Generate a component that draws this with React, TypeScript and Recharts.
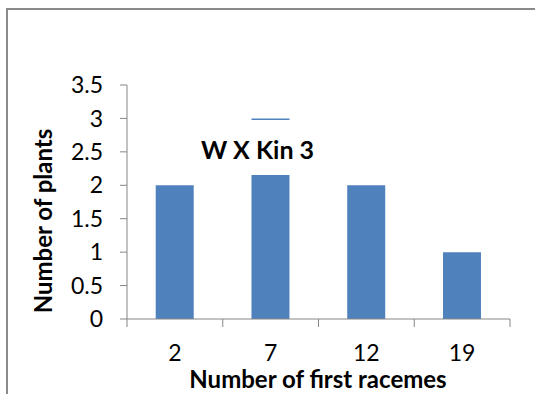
import { BarChart, Bar, XAxis, YAxis } from 'recharts';

const racemes = ['2', '7', '12', '19'];
const plants = [2, 3, 2, 1];
const yTicks = [0, 0.5, 1, 1.5, 2, 2.5, 3, 3.5];

const W = 535;
const H = 394;
const M = { top: 85, right: 25, left: 0, bottom: 0 };
const Y_AXIS_W = 127;
const X_AXIS_H = 75;
const AXIS = '#868686';
const FONT = 'Lato, "Open Sans", sans-serif';
const TICK_FS = 23;
const TITLE_FS = 24;

const data = racemes.map((r, i) => ({ racemes: r, plants: plants[i] }));

// category tick: label in the middle, tick marks on the band edges
function EdgeTick(props: any) {
  const { x, y, payload, index } = props;
  const band = (W - M.right - Y_AXIS_W) / racemes.length;
  const left = x - band / 2;
  return (
    <g>
      <line x1={left} x2={left} y1={y} y2={y + 8} stroke={AXIS} strokeWidth={1} />
      {index === racemes.length - 1 && (
        <line x1={left + band} x2={left + band} y1={y} y2={y + 8} stroke={AXIS} strokeWidth={1} />
      )}
      <text x={x} y={y + 33} textAnchor="middle" dominantBaseline="central" fontSize={TICK_FS} fill="#000" fontFamily={FONT}>
        {payload.value}
      </text>
    </g>
  );
}

export default function App() {
  return (
    <div style={{ position: 'absolute', left: 0, top: 0, width: W, height: H, overflow: 'hidden', background: '#fff', fontFamily: FONT }}>
      <div style={{ position: 'absolute', left: 6, top: 8, width: W, height: H, borderTop: '2px solid #8a8a8a', borderLeft: '2px solid #8a8a8a' }} />
      <div style={{ position: 'absolute', left: 0, top: 0 }}>
        <BarChart width={W} height={H} data={data} margin={M} barCategoryGap="30%">
          <XAxis
            dataKey="racemes"
            height={X_AXIS_H}
            stroke={AXIS}
            tickLine={false}
            tickSize={0}
            tickMargin={0}
            tick={<EdgeTick />}
            interval={0}
          />
          <YAxis
            width={Y_AXIS_W}
            domain={[0, 3.5]}
            ticks={yTicks}
            interval={0}
            stroke={AXIS}
            tickSize={7}
            tickMargin={17}
            tick={{ fontSize: TICK_FS, fill: '#000', fontFamily: FONT }}
          />
          <Bar dataKey="plants" fill="#4F81BD" isAnimationActive={false} />
        </BarChart>
      </div>
      <div
        style={{
          position: 'absolute', left: 43, top: 221, transform: 'translate(-50%, -50%) rotate(-90deg)',
          whiteSpace: 'nowrap', fontSize: TITLE_FS, fontWeight: 700, color: '#000', lineHeight: 1,
        }}
      >
        Number of plants
      </div>
      <div
        style={{
          position: 'absolute', left: 318, top: 379, transform: 'translate(-50%, -50%)',
          whiteSpace: 'nowrap', fontSize: TITLE_FS, fontWeight: 700, color: '#000', lineHeight: 1,
        }}
      >
        Number of first racemes
      </div>
      <div
        style={{
          position: 'absolute', left: 185, top: 120, width: 145, height: 55, background: '#fff',
          display: 'flex', alignItems: 'center', justifyContent: 'center', paddingTop: 3, boxSizing: 'border-box',
          fontSize: 25, fontWeight: 700, color: '#000', whiteSpace: 'nowrap',
        }}
      >
        W X Kin 3
      </div>
    </div>
  );
}
